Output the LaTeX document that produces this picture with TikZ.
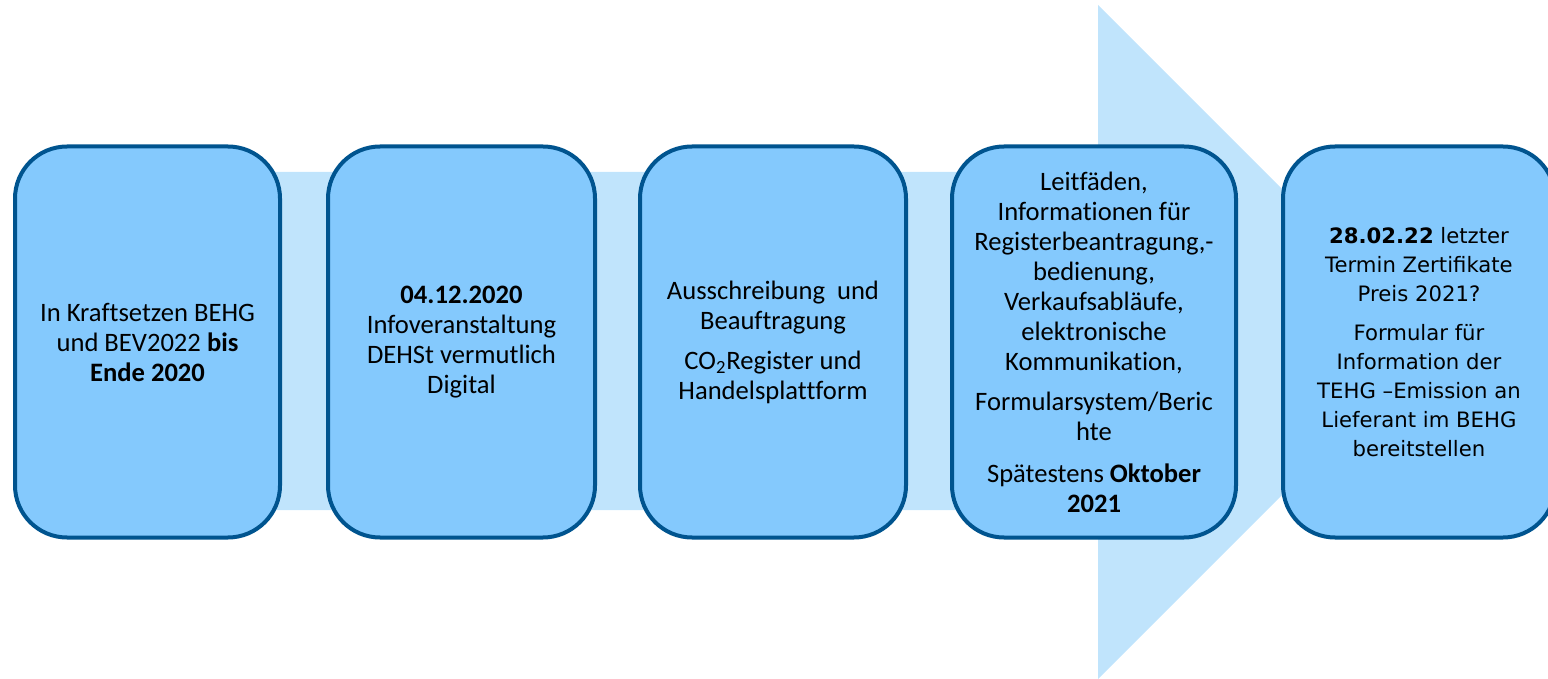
\documentclass[tikz,border=0pt]{standalone}
\usepackage{fontspec}
\setmainfont[Ligatures=NoCommon]{Carlito}
\newfontfamily\verdanalike{DejaVu Sans}
\usepackage{xcolor}
\definecolor{ArrowBlue}{HTML}{C0E4FC}
\definecolor{BoxBlue}{HTML}{84C9FD}
\definecolor{EdgeBlue}{HTML}{00548F}
\tikzset{
  phasebox/.style={draw=EdgeBlue, line width=2pt, fill=BoxBlue, rounded corners=26pt,
    minimum height=195.5pt, align=center, inner sep=0pt,
    font=\fontsize{13.3}{15}\selectfont},
}

\begin{document}
\begin{tikzpicture}[x=0.5pt,y=-0.5pt]
		\useasboundingbox (0,0) rectangle (1548,679);
		\coordinate (ShaftTop)    at (100,172);
		\coordinate (ShaftBottom) at (100,510);
		\coordinate (HeadTop)     at (1098,5);
		\coordinate (HeadBottom)  at (1098,679);
		\coordinate (ArrowTip)    at (1435,342);
		% big background arrow
		\fill [ArrowBlue] (ShaftTop) -- (ShaftTop -| HeadTop) -- (HeadTop)
			-- (ArrowTip) -- (HeadBottom) -- (ShaftBottom -| HeadTop)
			-- (ShaftBottom) -- cycle;

		% the five phases, left to right
		\node[phasebox, minimum width=132.5pt] (InKraft) at (147.5,342)
			{In Kraftsetzen BEHG\\und BEV2022 \textbf{bis}\\\textbf{Ende 2020}};
		\node[phasebox, minimum width=133.5pt] (InfoTermin) at (461.5,342)
			{\textbf{04.12.2020}\\Infoveranstaltung\\DEHSt vermutlich\\Digital};
		\node[phasebox, minimum width=133pt] (Register) at (773,342)
			{Ausschreibung\ \ und\\Beauftragung\\[5pt]CO\textsubscript{2}Register und\\Handelsplattform};
		\node[phasebox, minimum width=142pt] (Leitfaeden) at (1094,342)
			{Leitfäden,\\Informationen für\\Registerbeantragung,-\\bedienung,\\Verkaufsabläufe,\\elektronische\\Kommunikation,\\[5pt]Formularsystem/Beric\\hte\\[6pt]Spätestens \textbf{Oktober}\\\textbf{2021}};
		\node[phasebox, minimum width=136pt,
			font=\verdanalike\fontsize{10.6}{14.5}\selectfont] (Zertifikate) at (1419,342)
			{\textbf{28.02.22} letzter\\Termin Zertifikate\\Preis 2021?\\[5pt]Formular für\\Information der\\TEHG –Emission an\\Lieferant im BEHG\\bereitstellen};
	  \end{tikzpicture}
\end{document}
